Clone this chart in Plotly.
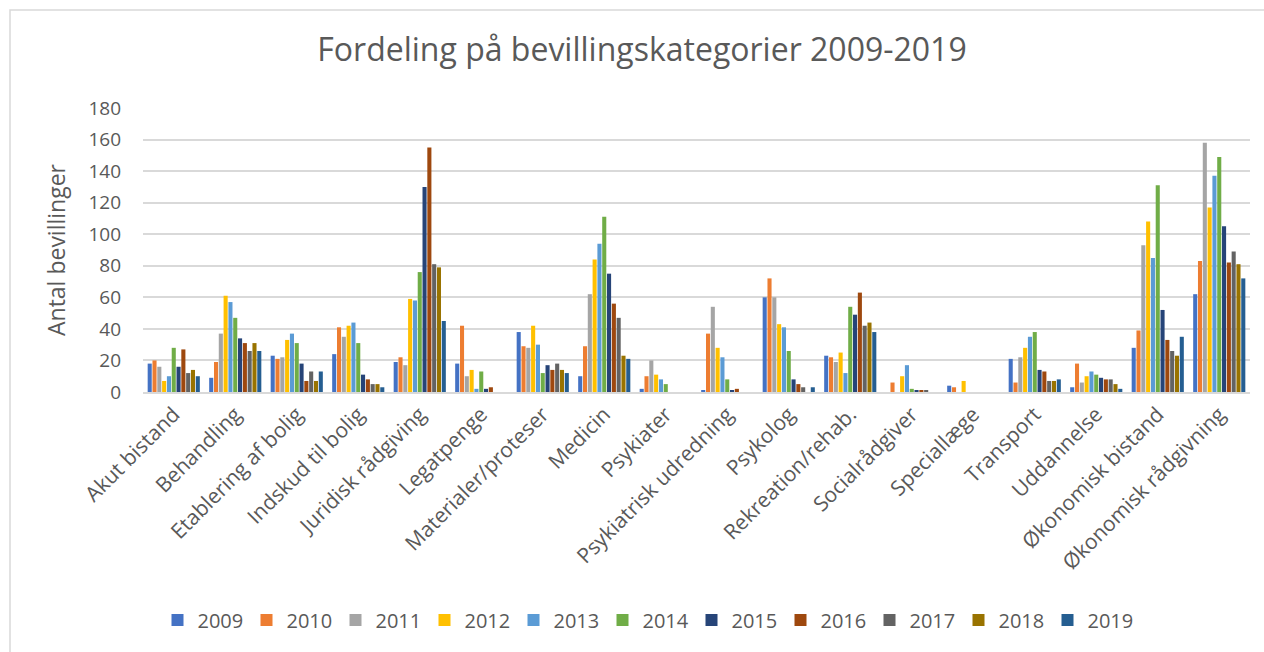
import plotly.graph_objects as go

categories = ["Akut bistand", "Behandling", "Etablering af bolig", "Indskud til bolig",
              "Juridisk rådgiving", "Legatpenge", "Materialer/proteser", "Medicin",
              "Psykiater", "Psykiatrisk udredning", "Psykolog", "Rekreation/rehab.",
              "Socialrådgiver", "Speciallæge", "Transport", "Uddannelse",
              "Økonomisk bistand", "Økonomisk rådgivning"]

years = ["2009", "2010", "2011", "2012", "2013", "2014", "2015", "2016", "2017", "2018", "2019"]

v2009 = [18, 9, 23, 24, 19, 18, 38, 10, 2, 1, 60, 23, 0, 4, 21, 3, 28, 62]
v2010 = [20, 19, 21, 41, 22, 42, 29, 29, 10, 37, 72, 22, 6, 3, 6, 18, 39, 83]
v2011 = [16, 37, 22, 35, 17, 10, 28, 62, 20, 54, 60, 19, 0, 0, 22, 6, 93, 158]
v2012 = [7, 61, 33, 42, 59, 14, 42, 84, 11, 28, 43, 25, 10, 7, 28, 10, 108, 117]
v2013 = [10, 57, 37, 44, 58, 2, 30, 94, 8, 22, 41, 12, 17, 0, 35, 13, 85, 137]
v2014 = [28, 47, 31, 31, 76, 13, 12, 111, 5, 8, 26, 54, 2, 0, 38, 11, 131, 149]
v2015 = [16, 34, 18, 11, 130, 2, 17, 75, 0, 1, 8, 49, 1, 0, 14, 9, 52, 105]
v2016 = [27, 31, 7, 8, 155, 3, 14, 56, 0, 2, 5, 63, 1, 0, 13, 8, 33, 82]
v2017 = [12, 26, 13, 5, 81, 0, 18, 47, 0, 0, 3, 42, 1, 0, 7, 8, 26, 89]
v2018 = [14, 31, 7, 5, 79, 0, 14, 23, 0, 0, 0, 44, 0, 0, 7, 5, 23, 81]
v2019 = [10, 26, 13, 3, 45, 0, 12, 21, 0, 0, 3, 38, 0, 0, 8, 2, 35, 72]

series = [v2009, v2010, v2011, v2012, v2013, v2014, v2015, v2016, v2017, v2018, v2019]
colors = ["#4472C4", "#ED7D31", "#A5A5A5", "#FFC000", "#5B9BD5", "#70AD47",
          "#264478", "#9E480E", "#636363", "#997300", "#255E91"]

FONT = "Open Sans"
TXT = "#595959"

fig = go.Figure()
for yr, vals, col in zip(years, series, colors):
    fig.add_trace(go.Bar(name=yr, x=categories, y=vals, marker=dict(color=col, line=dict(width=0))))

fig.update_layout(
    width=1264, height=652,
    paper_bgcolor="white", plot_bgcolor="white",
    barmode="group", bargap=0.14, bargroupgap=0.15,
    margin=dict(l=143, r=14, t=108, b=260, autoexpand=False),
    font=dict(family=FONT, color=TXT, size=18),
    title=dict(text="Fordeling på bevillingskategorier 2009-2019",
               x=642 / 1264, xanchor="center", y=1 - 50 / 652, yanchor="middle",
               font=dict(family=FONT, size=32, color=TXT)),
    legend=dict(orientation="h", x=(647 - 143) / 1107, xanchor="center",
                y=(392 - 620) / 284, yanchor="middle",
                font=dict(family=FONT, size=20, color=TXT), itemwidth=30,
                traceorder="normal", entrywidth=44, itemclick=False),
    showlegend=True,
)
fig.update_xaxes(tickangle=-45, showline=True, linecolor="#D9D9D9", linewidth=1.5,
                 showgrid=False, automargin=False, ticks="",
                 tickfont=dict(family=FONT, size=21, color=TXT))
fig.update_yaxes(range=[0, 180], dtick=20, showgrid=True, gridcolor="#D9D9D9", gridwidth=1.5,
                 zeroline=False, automargin=False, ticklabelstandoff=21,
                 tickfont=dict(family=FONT, size=19, color=TXT),
                 title=dict(text="Antal bevillinger", standoff=16,
                            font=dict(family=FONT, size=23, color=TXT)))

# outer chart border
fig.add_shape(type="rect", xref="paper", yref="paper",
              x0=(10 - 143) / 1107, x1=(1300 - 143) / 1107,
              y0=(392 - 700) / 284, y1=(392 - 10) / 284,
              line=dict(color="#D9D9D9", width=1.5), fillcolor="rgba(0,0,0,0)", layer="below")

fig.write_html("out.html", config={"displayModeBar": False},
               post_script="document.body.style.margin='0';")
